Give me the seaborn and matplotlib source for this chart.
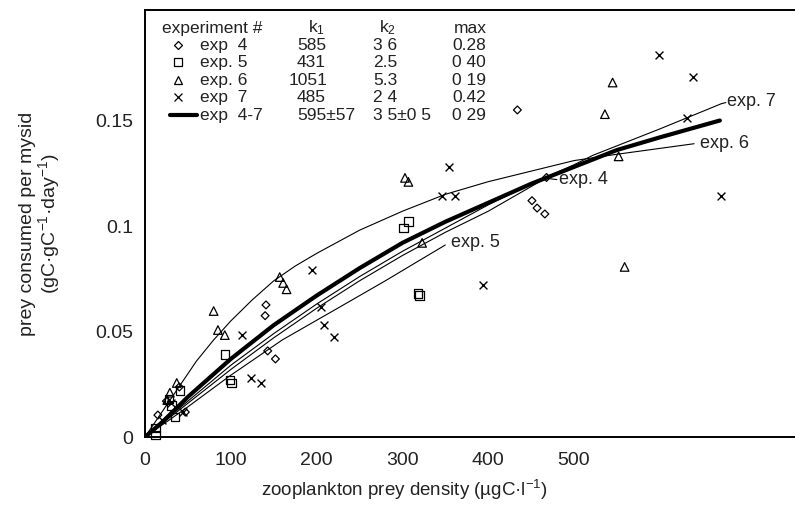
import matplotlib
matplotlib.use("Agg")
import matplotlib.pyplot as plt
import seaborn as sns

# scatter data (x = prey density, y = consumption)
exp4_x = [434, 468, 451, 457, 466, 141, 140, 143, 152, 15, 40, 47, 25]
exp4_y = [0.155, 0.123, 0.112, 0.1085, 0.1057, 0.0626, 0.0575, 0.0408, 0.037, 0.0104, 0.0237, 0.0118, 0.017]

exp5_x = [93, 99, 101, 318, 320, 301, 307, 12, 12, 35, 31, 41, 28]
exp5_y = [0.039, 0.027, 0.0256, 0.068, 0.067, 0.099, 0.102, 0.0043, 0.001, 0.0095, 0.015, 0.022, 0.018]

exp6_x = [80, 85, 93, 157, 161, 165, 303, 307, 323, 545, 536, 552, 559, 29, 26, 37]
exp6_y = [0.0597, 0.0507, 0.0483, 0.0758, 0.073, 0.070, 0.1228, 0.1209, 0.092, 0.168, 0.153, 0.133, 0.0806, 0.021, 0.0175, 0.0256]

exp7_x = [599, 639, 632, 671, 354, 346, 361, 195, 394, 205, 209, 220, 124, 135, 113, 44, 30, 20]
exp7_y = [0.181, 0.1706, 0.151, 0.114, 0.128, 0.114, 0.114, 0.079, 0.072, 0.0616, 0.053, 0.0474, 0.028, 0.0256, 0.0483, 0.012, 0.016, 0.008]

# fitted curves
fit4_x = [0, 50, 100, 150, 200, 250, 300, 350, 400, 460]
fit4_y = [0, 0.016, 0.032, 0.047, 0.061, 0.074, 0.086, 0.097, 0.107, 0.121]

fit5_x = [0, 49, 99, 160, 227, 280, 317, 350]
fit5_y = [0, 0.014, 0.029, 0.046, 0.0616, 0.074, 0.083, 0.091]

fit6_x = [0, 20, 40, 60, 80, 100, 125, 150, 175, 200, 250, 300, 350, 400, 450, 500, 550, 640]
fit6_y = [0, 0.012, 0.024, 0.036, 0.046, 0.055, 0.065, 0.074, 0.081, 0.087, 0.098, 0.107, 0.115, 0.121, 0.126, 0.131, 0.134, 0.139]

fit7_x = [0, 50, 100, 150, 200, 250, 300, 350, 400, 450, 500, 522, 600, 672]
fit7_y = [0, 0.017, 0.034, 0.049, 0.063, 0.076, 0.088, 0.099, 0.110, 0.120, 0.129, 0.1335, 0.146, 0.158]

fitall_x = [0, 20, 50, 100, 150, 200, 250, 300, 350, 400, 450, 500, 550, 600, 670]
fitall_y = [0, 0.007, 0.019, 0.037, 0.053, 0.067, 0.080, 0.092, 0.102, 0.111, 0.120, 0.128, 0.136, 0.142, 0.150]

# legend table
exp_names = ["exp  4", "exp. 5", "exp. 6", "exp  7", "exp  4-7"]
k1_vals = ["585", "431", "1051", "485", "595\u00b157"]
k2_vals = ["3 6", "2.5", "5.3", "2 4", "3 5\u00b10 5"]
max_vals = ["0.28", "0 40", "0 19", "0.42", "0 29"]

sns.set_theme(style="white")
plt.rcParams["font.family"] = ["Liberation Sans", "DejaVu Sans"]
plt.rcParams["mathtext.fontset"] = "custom"
plt.rcParams["mathtext.rm"] = "Liberation Sans"
plt.rcParams["mathtext.it"] = "Liberation Sans"

fig = plt.figure(figsize=(7.95, 5.11), dpi=100)
ax = fig.add_axes([145 / 795, 74 / 511, 650 / 795, 427 / 511])

PX = 0.858   # pixels per x unit
PY = 2110.0  # pixels per y unit

thin = dict(color="black", lw=0.8)
for fx, fy in [(fit4_x, fit4_y), (fit5_x, fit5_y), (fit6_x, fit6_y), (fit7_x, fit7_y)]:
    sns.lineplot(x=fx, y=fy, ax=ax, sort=False, estimator=None, **thin)
sns.lineplot(x=fitall_x, y=fitall_y, ax=ax, sort=False, estimator=None, color="black", lw=3)

open_kw = dict(facecolor="none", edgecolor="black", linewidth=0.9, clip_on=False, zorder=3)
sns.scatterplot(x=exp4_x, y=exp4_y, marker="D", s=16, ax=ax, **open_kw)
sns.scatterplot(x=exp5_x, y=exp5_y, marker="s", s=38, ax=ax, **open_kw)
sns.scatterplot(x=exp6_x, y=exp6_y, marker="^", s=38, ax=ax, **open_kw)
sns.scatterplot(x=exp7_x, y=exp7_y, marker="x", s=32, color="black", linewidth=1.0, ax=ax, zorder=3)

# curve labels
lab_kw = dict(fontsize=13, va="center", ha="left", color="#222222")
ax.text(678, 0.159, "exp. 7", **lab_kw)
ax.plot([672, 677], [0.158, 0.1585], color="black", lw=0.8)
ax.text(647, 0.139, "exp. 6", **lab_kw)
ax.text(482, 0.122, "exp. 4", **lab_kw)
ax.plot([470, 480], [0.1225, 0.122], color="black", lw=0.8)
ax.text(357, 0.092, "exp. 5", **lab_kw)

ax.set_xlim(0, 650 / PX)
ax.set_ylim(0, 427 / PY)
ax.set_xticks([0, 100, 200, 300, 400, 500])
ax.set_yticks([0, 0.05, 0.1, 0.15])
ax.set_yticklabels(["0", "0.05", "0.1", "0.15"])
ax.tick_params(direction="inout", length=9, width=1.2, colors="black",
               labelsize=14, labelcolor="#222222", pad=4)
ax.tick_params(axis="x", pad=6)
for side in ["left", "bottom", "top"]:
    ax.spines[side].set_color("black")
    ax.spines[side].set_linewidth(1.4)
ax.spines["right"].set_visible(False)

ax.set_xlabel("zooplankton prey density (\u00b5gC\u00b7l$^{-1}$)", fontsize=13.5,
              color="#222222")
ax.xaxis.set_label_coords((404 - 145) / 650, -(478 - 437) / 427)
ax.set_ylabel("prey consumed per mysid\n(gC\u00b7gC$^{-1}$\u00b7day$^{-1}$)", fontsize=14,
              color="#222222", linespacing=1.0)
ax.yaxis.set_label_coords((62 - 145) / 650, 0.5)


def to_data(px, py):
    return (px - 145) / PX, (437 - py) / PY


# legend block drawn as a small table
tkw = dict(fontsize=12.5, va="center", color="#222222")
hy = 28
ax.text(*to_data(162, hy), "experiment #", ha="left", **tkw)
ax.text(*to_data(317, hy), "k$_1$", ha="center", **tkw)
ax.text(*to_data(387, hy), "k$_2$", ha="center", **tkw)
ax.text(*to_data(470, hy), "max", ha="center", **tkw)

row_y = [45, 62, 80, 97, 115]
k1_x = [297, 297, 289, 297, 297]
marks = ["D", "s", "^", "x"]
msz = [4, 6, 6, 6]
for i, ry in enumerate(row_y):
    ax.text(*to_data(200, ry), exp_names[i], ha="left", **tkw)
    ax.text(*to_data(k1_x[i], ry), k1_vals[i], ha="left", **tkw)
    ax.text(*to_data(373, ry), k2_vals[i], ha="left", **tkw)
    ax.text(*to_data(452, ry), max_vals[i], ha="left", **tkw)
    if i < 4:
        mx, my = to_data(178, ry)
        ax.plot([mx], [my], marker=marks[i], ms=msz[i], mfc="none", mec="black",
                mew=0.9, linestyle="none")
    else:
        x0, y0 = to_data(170, ry)
        x1, _ = to_data(197, ry)
        ax.plot([x0, x1], [y0, y0], color="black", lw=3)

fig.savefig("out.png", dpi=100)
